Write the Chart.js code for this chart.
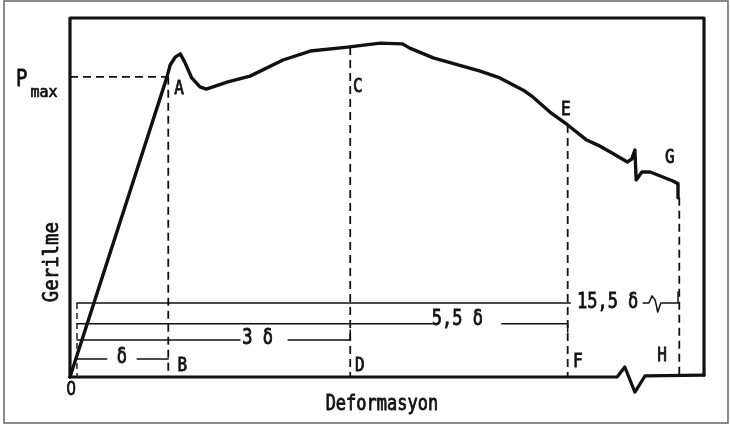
<!DOCTYPE html>
<html>
<head>
<meta charset="utf-8">
<script src="https://cdn.jsdelivr.net/npm/chart.js@4"></script>
<style>
  body { margin: 0; background: #fff; }
  canvas { display: block; }
</style>
</head>
<body>
<canvas id="diagramChart" width="730" height="426"></canvas>
<script>
// x: deformation (0 = O, 100 = right frame), y: stress (0 = baseline, 100 = top frame)
const stressCurve = [
  [0, 0], [15.3, 83.6], [15.8, 86.9], [16.6, 89.1], [17.4, 90.0], [18.1, 87.7],
  [19.2, 83.3], [20.5, 80.8], [21.5, 80.2], [24.9, 82.2], [28.4, 83.8], [33.6, 88.3],
  [37.9, 90.8], [43.8, 91.9], [48.9, 93.0], [52.4, 92.8], [53.6, 91.6], [57.3, 88.9],
  [64.7, 85.2], [67.8, 83.3], [71.5, 79.9], [73.0, 78.0], [75.7, 73.8], [78.5, 70.2],
  [81.5, 66.0], [83.6, 64.3], [85.5, 62.4], [87.9, 59.9], [88.6, 60.7], [89.1, 63.2],
  [89.3, 54.9], [90.2, 57.1], [91.5, 57.1], [95.1, 54.6], [95.9, 53.8], [95.9, 49.9]
];

const frameTop = [[0, 0], [0, 100], [100, 100], [100, 0.5]];
const baseAxis = [[0, 0], [86.3, 0], [87.5, 2.8], [89.1, -4.2], [90.7, 0.3], [100, 0.5]];

const pmaxLevel = [[0, 83.6], [15.3, 83.6]];
const dropA = [[15.5, 83.6], [15.5, 0]];
const dropC = [[44.2, 91.9], [44.2, 0]];
const dropE = [[78.5, 70.2], [78.5, 0]];
const dropH = [[96.1, 49.9], [96.1, 0]];
const dropLeft = [[1.1, 20.6], [1.1, 0]];

// dimension lines: delta, 3 delta, 5.5 delta, 15.5 delta
const dimDelta = [[[1.1, 5.0], [5.8, 5.0]], [[10.6, 5.0], [15.5, 5.0]]];
const dim3Delta = [[[1.1, 10.3], [26.8, 10.3]], [[34.4, 10.3], [44.2, 10.3], [44.2, 13.1]]];
const dim55Delta = [[[1.1, 14.8], [57.1, 14.8]], [[68.1, 14.8], [78.5, 14.8], [78.5, 12.5]]];
const dim155Delta = [
  [[1.1, 20.6], [78.9, 20.6]],
  [[90.4, 20.6], [91.3, 20.6], [91.8, 22.6], [92.3, 21.4], [92.7, 18.1], [93.2, 20.6], [95.9, 20.6], [95.9, 23.7]]
];

const pointNames = ["A", "C", "E", "G", "B", "D", "F", "H"];
const pointNameX = [17.2, 45.4, 78.2, 94.6, 17.7, 45.7, 80.1, 93.4];
const pointNameY = [80.2, 80.8, 74.4, 61.0, 3.1, 3.1, 4.2, 5.8];
const originName = "0";
const originX = 0.2;
const originY = -3.6;

const dimNames = ["δ", "3 δ", "5,5 δ", "15,5 δ"];
const dimNameX = [8.2, 29.6, 61.1, 84.8];
const dimNameY = [5.3, 10.6, 15.9, 20.6];

const xTitle = "Deformasyon";
const yTitle = "Gerilme";

function toPts(arr) {
  return arr.map(p => ({ x: p[0], y: p[1] }));
}

function line(arr, width, dash) {
  return {
    data: toPts(arr),
    showLine: true,
    borderColor: "#111",
    borderWidth: width,
    borderDash: dash || [],
    pointRadius: 0,
    fill: false,
    tension: 0,
    borderJoinStyle: "round",
    borderCapStyle: dash ? "butt" : "round"
  };
}

const datasets = [
  line(frameTop, 3.2),
  line(baseAxis, 3.2),
  line(stressCurve, 3.4),
  line(pmaxLevel, 1.8, [8, 5]),
  line(dropA, 1.8, [8, 5]),
  line(dropC, 1.8, [8, 5]),
  line(dropE, 1.8, [8, 5]),
  line(dropH, 1.8, [8, 5]),
  line(dropLeft, 1.4, [6, 4])
];
[dimDelta, dim3Delta, dim55Delta, dim155Delta].forEach(group => {
  group.forEach(seg => datasets.push(line(seg, 1.5)));
});

// text drawn narrow and tall, like the typewriter lettering
function drawText(c, t, px, py, size, stretch, rot, family) {
  c.save();
  c.translate(px, py);
  if (rot) c.rotate(rot);
  c.scale(1, stretch);
  c.font = size + "px " + (family || "'DejaVu Sans Mono'");
  c.lineWidth = 0.7;
  c.strokeStyle = "#111";
  c.fillText(t, 0, 0);
  c.strokeText(t, 0, 0);
  c.restore();
}

const textPlugin = {
  id: "diagramText",
  beforeDraw(chart) {
    const c = chart.ctx;
    c.save();
    c.strokeStyle = "#666";
    c.lineWidth = 1.5;
    c.strokeRect(4, 1, 724, 422);
    c.restore();
  },
  afterDraw(chart) {
    const c = chart.ctx;
    const sx = chart.scales.x;
    const sy = chart.scales.y;
    c.save();
    c.fillStyle = "#111";
    c.textAlign = "center";
    c.textBaseline = "middle";

    pointNames.forEach((t, i) => {
      drawText(c, t, sx.getPixelForValue(pointNameX[i]), sy.getPixelForValue(pointNameY[i]), 16, 1.2);
    });
    drawText(c, originName, sx.getPixelForValue(originX), sy.getPixelForValue(originY), 16, 1.25, 0, "'Liberation Sans'");

    dimNames.forEach((t, i) => {
      drawText(c, t, sx.getPixelForValue(dimNameX[i]), sy.getPixelForValue(dimNameY[i]), 17, 1.2);
    });

    // P max
    drawText(c, "P", sx.getPixelForValue(-7.6), sy.getPixelForValue(82.8), 19, 1.2);
    drawText(c, "max", sx.getPixelForValue(-4.1), sy.getPixelForValue(79.1), 15, 1.05);

    drawText(c, xTitle, sx.getPixelForValue(49.2), sy.getPixelForValue(-7.8), 17, 1.2);
    drawText(c, yTitle, sx.getPixelForValue(-2.7), sy.getPixelForValue(32.0), 19, 1.1, -Math.PI / 2);
    c.restore();
  }
};

new Chart(document.getElementById("diagramChart"), {
  type: "scatter",
  data: { datasets: datasets },
  options: {
    responsive: false,
    devicePixelRatio: 1,
    animation: false,
    layout: { padding: 0 },
    plugins: { legend: { display: false }, tooltip: { enabled: false } },
    scales: {
      x: { type: "linear", display: false, min: -11.04, max: 104.1 },
      y: { type: "linear", display: false, min: -13.65, max: 105.01 }
    }
  },
  plugins: [textPlugin]
});
</script>
</body>
</html>
